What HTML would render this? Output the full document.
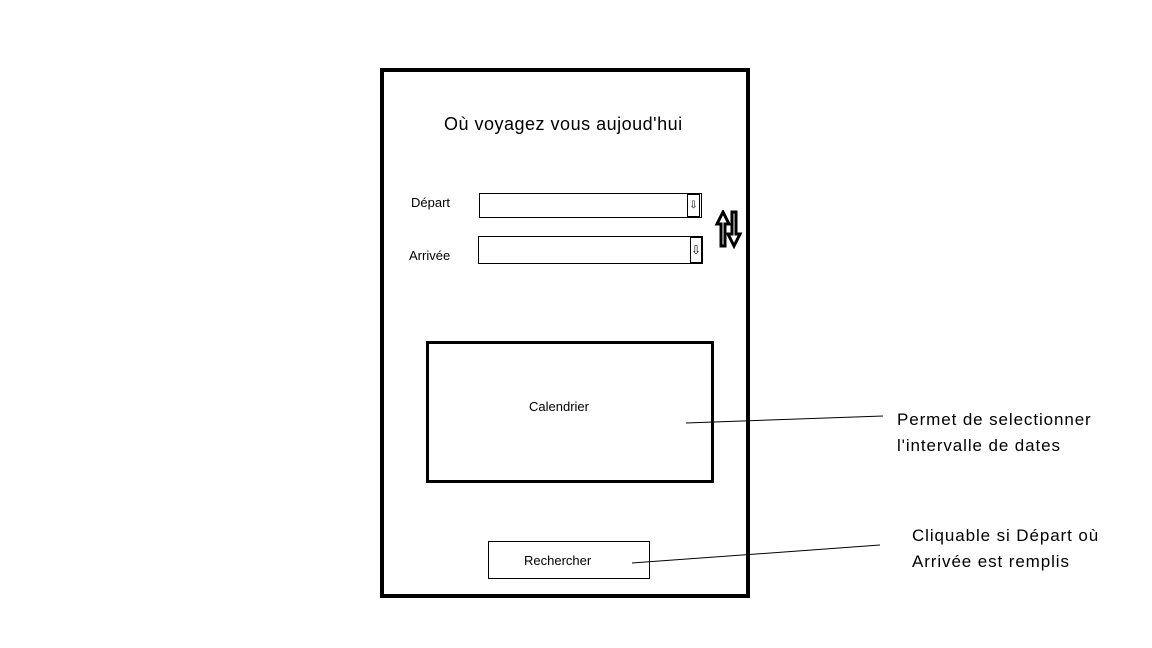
<!DOCTYPE html>
<html><head><meta charset="utf-8"><style>
body{margin:0;width:1152px;height:648px;background:#fff;position:relative;overflow:hidden;font-family:"Liberation Sans","DejaVu Sans",sans-serif;color:#000}
.a{position:absolute}
.t{position:absolute;white-space:nowrap;line-height:1}
</style></head><body>
<div class="a" style="left:380px;top:68px;width:362px;height:522px;border:4px solid #000"></div>
<div class="t" style="left:444px;top:115px;font-size:18px;letter-spacing:0.5px">Où voyagez vous aujoud'hui</div>
<div class="t" style="left:411px;top:196px;font-size:13px">Départ</div>
<div class="a" style="left:479px;top:193px;width:221px;height:23px;border:1px solid #000">
 <div class="a" style="left:207px;top:0;width:11px;height:21px;border:1px solid #000;font-size:10px;text-align:center;line-height:21px">⇩</div>
</div>
<div class="t" style="left:409px;top:249px;font-size:13px">Arrivée</div>
<div class="a" style="left:478px;top:236px;width:223px;height:26px;border:1px solid #000">
 <div class="a" style="left:211px;top:0;width:10px;height:24px;border:1px solid #000;font-size:12px;text-align:center;line-height:24px">⇩</div>
</div>
<svg class="a" style="left:714px;top:210px" width="30" height="40" viewBox="0 0 30 40">
 <path d="M9 2 L3 14 L7 14 L7 36 L11 36 L11 14 L15 14 Z" fill="none" stroke="#000" stroke-width="3"/>
 <path d="M20 36 L14 24 L18 24 L18 2 L22 2 L22 24 L26 24 Z" fill="none" stroke="#000" stroke-width="3"/>
</svg>
<div class="a" style="left:426px;top:341px;width:282px;height:136px;border:3px solid #000"></div>
<div class="t" style="left:529px;top:400px;font-size:13px">Calendrier</div>
<div class="a" style="left:488px;top:541px;width:160px;height:36px;border:1px solid #000"></div>
<div class="t" style="left:524px;top:554px;font-size:13px">Rechercher</div>
<svg class="a" style="left:0;top:0" width="1152" height="648">
 <line x1="686" y1="423" x2="883" y2="416" stroke="#000" stroke-width="1"/>
 <line x1="632" y1="563" x2="880" y2="545" stroke="#000" stroke-width="1"/>
</svg>
<div class="t" style="left:897px;top:407px;font-size:17px;line-height:26px;letter-spacing:0.9px">Permet de selectionner<br>l'intervalle de dates</div>
<div class="t" style="left:912px;top:523px;font-size:17px;line-height:26px;letter-spacing:0.9px">Cliquable si Départ où<br>Arrivée est remplis</div>
</body></html>
